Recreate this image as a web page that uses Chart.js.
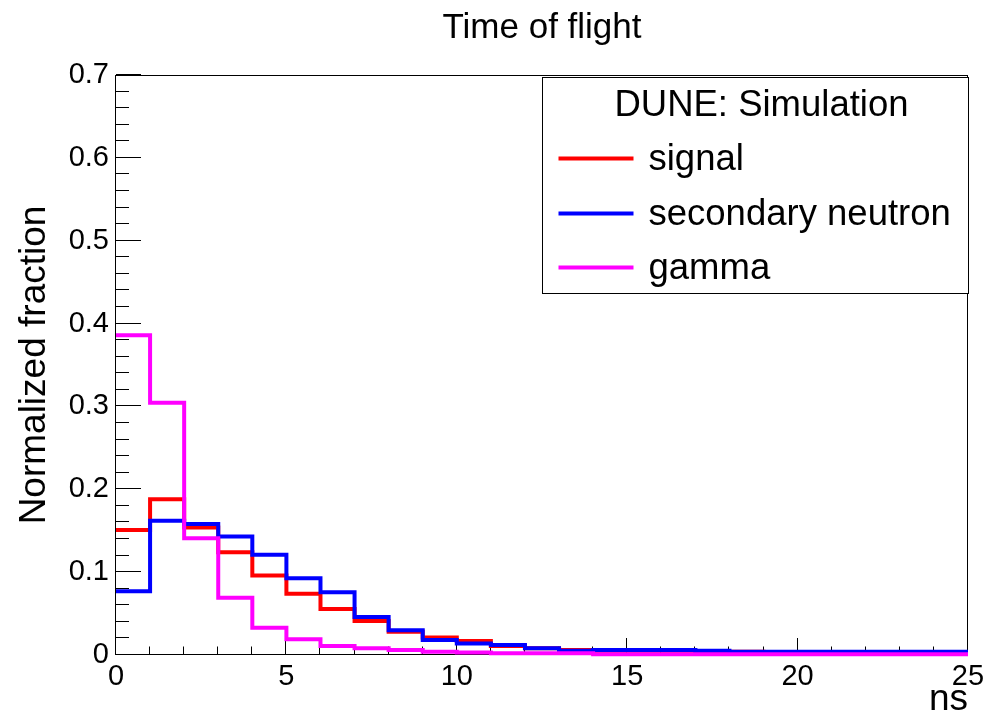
<!DOCTYPE html>
<html>
<head>
<meta charset="utf-8">
<script src="https://cdn.jsdelivr.net/npm/chart.js@4/dist/chart.umd.min.js"></script>
<style>
  html, body { margin: 0; padding: 0; background: #ffffff; }
  #wrap { width: 990px; height: 720px; }
</style>
</head>
<body>
<div id="wrap"><canvas id="c" width="990" height="720"></canvas></div>
<script>
// ---- Data ----
const binStarts = [0, 1, 2, 3, 4, 5, 6, 7, 8, 9, 10, 11, 12, 13, 14, 15, 16, 17, 18, 19, 20, 21, 22, 23, 24];
const binEnd = 25;
const signalValues = [0.151, 0.188, 0.154, 0.124, 0.096, 0.074, 0.0555, 0.041, 0.028, 0.021, 0.017, 0.011, 0.008, 0.006, 0.005, 0.005, 0.005, 0.004, 0.004, 0.003, 0.003, 0.003, 0.003, 0.003, 0.003];
const secondaryNeutronValues = [0.077, 0.162, 0.158, 0.143, 0.121, 0.0925, 0.0757, 0.046, 0.030, 0.018, 0.014, 0.012, 0.008, 0.005, 0.006, 0.006, 0.006, 0.005, 0.004, 0.004, 0.004, 0.004, 0.004, 0.004, 0.004];
const gammaValues = [0.386, 0.3045, 0.141, 0.069, 0.033, 0.019, 0.011, 0.008, 0.006, 0.004, 0.003, 0.002, 0.002, 0.002, 0.001, 0.001, 0.001, 0.001, 0.001, 0.001, 0.001, 0.001, 0.001, 0.001, 0.001];
const seriesNames = ['signal', 'secondary neutron', 'gamma'];
const xTickLabels = ['0', '5', '10', '15', '20', '25'];
const yTickLabels = ['0', '0.1', '0.2', '0.3', '0.4', '0.5', '0.6', '0.7'];
const chartTitle = 'Time of flight';
const xAxisTitle = 'ns';
const yAxisTitle = 'Normalized fraction';
const legendHeader = 'DUNE: Simulation';

// ---- Build histogram step points (left bin edges + closing edge) ----
function histPoints(vals) {
  const pts = binStarts.map((x, i) => ({ x: x, y: vals[i] }));
  pts.push({ x: binEnd, y: vals[vals.length - 1] });
  return pts;
}

const FONT = "'Liberation Sans', Arial, Helvetica, sans-serif";

// Frame, inward ticks (ROOT style), title centred on the frame, and legend box
const rootStyle = {
  id: 'rootStyle',
  beforeDatasetsDraw(chart) {
    const ctx = chart.ctx;
    const ca = chart.chartArea;
    const xs = chart.scales.x, ys = chart.scales.y;
    ctx.save();
    // title, centred over the plot frame
    ctx.fillStyle = '#000000';
    ctx.font = '35px ' + FONT;
    ctx.textAlign = 'center';
    ctx.textBaseline = 'alphabetic';
    ctx.fillText(chartTitle, (ca.left + ca.right) / 2, ca.top - 37.5);

    ctx.strokeStyle = '#000000';
    ctx.lineWidth = 1;
    // frame
    ctx.strokeRect(Math.round(ca.left) - 0.5, Math.round(ca.top) + 0.5, Math.round(ca.right - ca.left), Math.round(ca.bottom - ca.top) - 1);
    ctx.beginPath();
    // x ticks: minor every 1, major every 5
    for (let v = xs.min; v <= xs.max + 1e-9; v += 1) {
      const px = Math.round(xs.getPixelForValue(v)) - 0.5;
      const major = Math.abs(v / 5 - Math.round(v / 5)) < 1e-6;
      const len = major ? 17 : 8.5;
      ctx.moveTo(px, ca.bottom);
      ctx.lineTo(px, ca.bottom - len);
    }
    // y ticks: minor every 0.02, major every 0.1
    for (let k = 0; k <= 35; k++) {
      const v = k * 0.02;
      const py = Math.round(ys.getPixelForValue(v)) - 0.5;
      const major = k % 5 === 0;
      const len = major ? 25 : 13;
      ctx.moveTo(ca.left, py);
      ctx.lineTo(ca.left + len, py);
    }
    ctx.stroke();
    ctx.restore();
  },
  afterDatasetsDraw(chart) {
    const ctx = chart.ctx;
    const ca = chart.chartArea;
    const w = ca.right - ca.left, h = ca.bottom - ca.top;
    const bx1 = Math.round(ca.left + 0.5 * w) + 0.5;
    const bx2 = Math.round(ca.right) + 0.5;
    const by1 = Math.round(ca.top + 2) + 0.5;
    const by2 = Math.round(ca.top + 0.376 * h) + 0.5;
    ctx.save();
    ctx.fillStyle = '#ffffff';
    ctx.fillRect(bx1, by1, bx2 - bx1, by2 - by1);
    ctx.strokeStyle = '#000000';
    ctx.lineWidth = 1;
    ctx.strokeRect(bx1, by1, bx2 - bx1, by2 - by1);
    ctx.fillStyle = '#000000';
    ctx.font = '36.5px ' + FONT;
    ctx.textBaseline = 'alphabetic';
    ctx.textAlign = 'center';
    ctx.fillText(legendHeader, (bx1 + bx2) / 2 + 6, by1 + 38);
    ctx.textAlign = 'left';
    const rowY = [by1 + 81, by1 + 136, by1 + 190];
    chart.data.datasets.forEach((ds, i) => {
      const y = rowY[i];
      ctx.strokeStyle = ds.borderColor;
      ctx.lineWidth = 4;
      ctx.beginPath();
      ctx.moveTo(bx1 + 16, y);
      ctx.lineTo(bx1 + 91, y);
      ctx.stroke();
      ctx.fillStyle = '#000000';
      ctx.fillText(ds.label, bx1 + 106, y + 11);
    });
    ctx.restore();
  }
};

const commonDs = { stepped: 'before', borderWidth: 4, pointRadius: 0, pointHoverRadius: 0, fill: false, clip: 6, tension: 0, borderJoinStyle: 'miter', borderCapStyle: 'butt' };

new Chart(document.getElementById('c'), {
  type: 'line',
  data: {
    datasets: [
      Object.assign({ label: seriesNames[0], data: histPoints(signalValues), borderColor: '#ff0000', order: 3 }, commonDs),
      Object.assign({ label: seriesNames[1], data: histPoints(secondaryNeutronValues), borderColor: '#0000ff', order: 2 }, commonDs),
      Object.assign({ label: seriesNames[2], data: histPoints(gammaValues), borderColor: '#ff00ff', order: 1 }, commonDs)
    ]
  },
  options: {
    responsive: false,
    animation: false,
    devicePixelRatio: 1,
    events: [],
    layout: { padding: { left: 0, right: 22, top: 75, bottom: 0 } },
    plugins: {
      legend: { display: false },
      tooltip: { enabled: false },
      title: { display: false }
    },
    scales: {
      x: {
        type: 'linear',
        min: 0,
        max: 25,
        grid: { display: false, drawTicks: false },
        border: { display: false },
        ticks: {
          stepSize: 5,
          maxRotation: 0,
          autoSkip: false,
          padding: 5,
          color: '#000000',
          font: { family: FONT, size: 29 },
          callback: (v, i) => xTickLabels[i]
        },
        title: {
          display: true,
          text: xAxisTitle,
          align: 'end',
          color: '#000000',
          font: { family: FONT, size: 37, lineHeight: 1 },
          padding: { top: 0, bottom: 2 }
        },
        afterFit: (s) => { s.height = 65; }
      },
      y: {
        type: 'linear',
        min: 0,
        max: 0.7,
        grid: { display: false, drawTicks: false },
        border: { display: false },
        ticks: {
          stepSize: 0.1,
          autoSkip: false,
          padding: 7,
          color: '#000000',
          font: { family: FONT, size: 29 },
          callback: (v, i) => yTickLabels[i]
        },
        title: {
          display: true,
          text: yAxisTitle,
          color: '#000000',
          font: { family: FONT, size: 37, lineHeight: 1 },
          padding: { top: 16, bottom: 0 }
        },
        afterFit: (s) => { s.width = 116; }
      }
    }
  },
  plugins: [rootStyle]
});
</script>
</body>
</html>
